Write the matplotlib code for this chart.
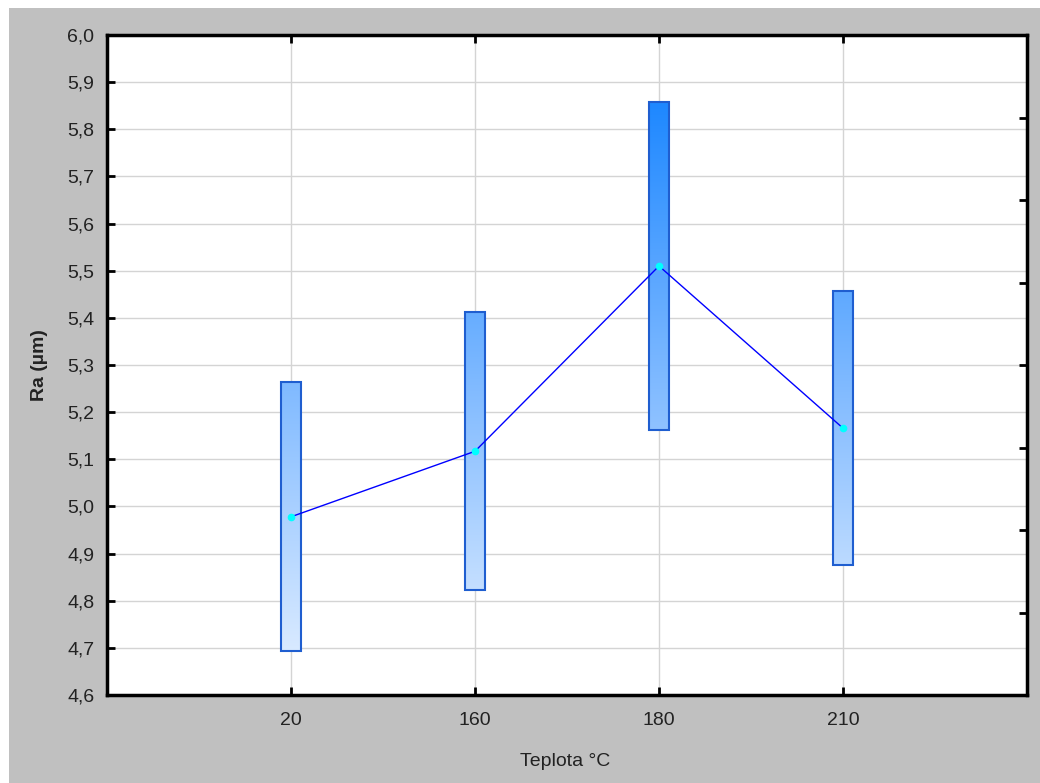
import numpy as np
import matplotlib
matplotlib.use("Agg")
import matplotlib.pyplot as plt
from matplotlib.patches import Rectangle
from matplotlib.colors import LinearSegmentedColormap
from matplotlib.ticker import FixedLocator, FuncFormatter

# Surface roughness Ra vs. temperature: mean and interval bounds
categories = ["20", "160", "180", "210"]
means = [4.978, 5.117, 5.510, 5.166]
lower = [4.693, 4.823, 5.162, 4.876]
upper = [5.264, 5.412, 5.858, 5.457]

plt.rcParams["font.family"] = ["Liberation Sans", "DejaVu Sans"]

fig = plt.figure(figsize=(10.4, 7.83), dpi=100, facecolor="#C0C0C0")
# thin white margin at the top and left edge of the window
fig.patches.append(Rectangle((0, 0), 9 / 1040, 1, transform=fig.transFigure,
                             facecolor="white", edgecolor="none", zorder=-1))
fig.patches.append(Rectangle((0, 1 - 8 / 783), 1, 8 / 783, transform=fig.transFigure,
                             facecolor="white", edgecolor="none", zorder=-1))

ax = fig.add_axes([107 / 1040, 1 - 695 / 783, 920 / 1040, 660 / 783])
ax.set_facecolor("white")

ymin, ymax = 4.6, 6.0
x = np.arange(1, len(categories) + 1)
ax.set_xlim(0, len(categories) + 1)
ax.set_ylim(ymin, ymax)

# vertical colour gradient shared by all bars (light at bottom, deep blue at top)
cmap = LinearSegmentedColormap.from_list(
    "bars", [(0.0, "#E6F1FF"), (0.47, "#80BAFF"), (0.9, "#1E88FF"), (1.0, "#1080FF")])
grad = np.linspace(0, 1, 256).reshape(-1, 1)

bar_w = 0.105
for xi, lo, hi in zip(x, lower, upper):
    rect = Rectangle((xi - bar_w / 2, lo), bar_w, hi - lo, facecolor="none",
                     edgecolor="#1F5ED0", linewidth=1.5, zorder=4)
    ax.add_patch(rect)
    f0 = (lo - ymin) / (ymax - ymin)
    f1 = (hi - ymin) / (ymax - ymin)
    seg = grad[int(f0 * 255):int(np.ceil(f1 * 255)) + 1]
    im = ax.imshow(seg, cmap=cmap, vmin=0, vmax=1, origin="lower", aspect="auto",
                   extent=(xi - bar_w / 2, xi + bar_w / 2, lo, hi),
                   interpolation="bilinear", zorder=3)
    clip = Rectangle((xi - bar_w / 2, lo), bar_w, hi - lo, transform=ax.transData,
                     facecolor="none", edgecolor="none")
    im.set_clip_path(clip)

ax.set_xlim(0, len(categories) + 1)
ax.set_ylim(ymin, ymax)

ax.plot(x, means, color="#0000FF", linewidth=1.0, zorder=5)
ax.plot(x, means, linestyle="none", marker="o", markersize=4.5,
        markerfacecolor="#00FFFF", markeredgecolor="#00FFFF", zorder=6)

yticks = np.round(np.arange(ymin, ymax + 0.001, 0.1), 1)
ax.yaxis.set_major_locator(FixedLocator(yticks))
ax.yaxis.set_major_formatter(FuncFormatter(lambda v, p: f"{v:.1f}".replace(".", ",")))
ax.set_xticks(x)
ax.set_xticklabels(categories)

ax.grid(True, color="#D4D4D4", linewidth=1.0, zorder=0)
ax.set_axisbelow(True)

for sp in ax.spines.values():
    sp.set_linewidth(2.5)
    sp.set_color("black")

ax.tick_params(axis="both", direction="in", length=6, width=2, labelsize=14,
               colors="black", labelcolor="#222222")
ax.tick_params(axis="x", top=True, bottom=True, pad=12)
ax.tick_params(axis="y", left=True, right=False, pad=9)

# right-hand axis carries its own unlabeled divisions
ax2 = ax.twinx()
ax2.set_ylim(ymin, ymax)
ax2.set_yticks(np.linspace(ymin, ymax, 9)[1:-1])
ax2.tick_params(axis="y", direction="in", length=6, width=2, labelright=False)
for sp in ax2.spines.values():
    sp.set_visible(False)

ax.set_ylabel("Ra (µm)", fontsize=14, fontweight="bold", color="#222222")
ax.yaxis.set_label_coords(-(107 - 40) / 920, 0.5)
ax.set_xlabel("Teplota °C", fontsize=14, color="#222222")
ax.xaxis.set_label_coords(458 / 920, -(762 - 695) / 660)
ax.xaxis.label.set_va("center")
ax.yaxis.label.set_va("center")

fig.savefig("out.png", dpi=100, facecolor=fig.get_facecolor())
